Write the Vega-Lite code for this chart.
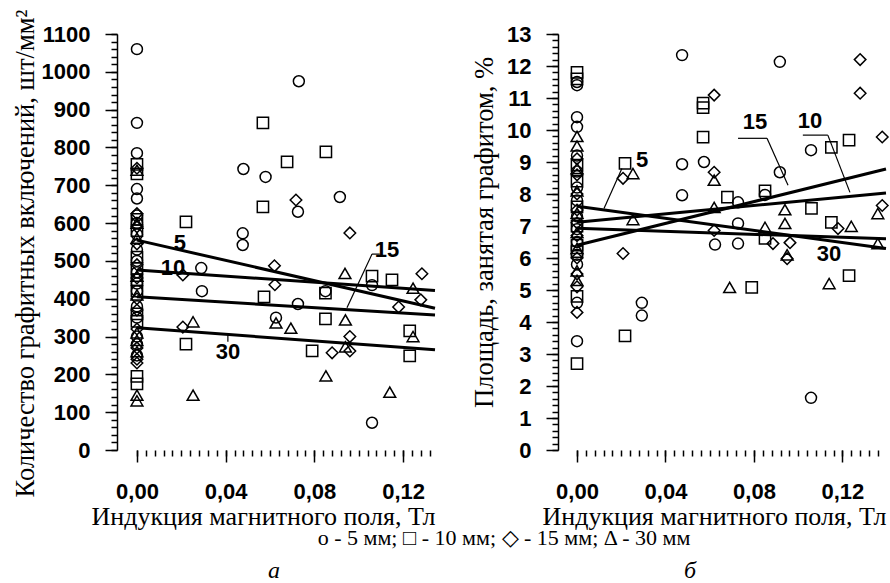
{
"$schema": "https://vega.github.io/schema/vega-lite/v6.json",
"background": "white",
"padding": {"left": 12, "top": 9, "right": 0, "bottom": 0},
"config": {"view": {"stroke": null}, "axis": {"grid": false, "domainColor": "black", "domainWidth": 1.5, "tickColor": "black", "tickWidth": 1.5, "labelColor": "black", "titleColor": "black", "labelFont": "Liberation Sans", "labelFontWeight": "bold", "labelFontSize": 22, "titleFont": "Liberation Serif", "titleFontWeight": "normal", "titleFontSize": 26, "labelOverlap": false, "labelFlush": false, "labelBound": false}},
"title": {"text": "о - 5 мм; □ - 10 мм; ◇ - 15 мм; Δ - 30 мм", "orient": "bottom", "anchor": "middle", "font": "Liberation Serif", "fontSize": 22, "fontWeight": "normal", "color": "black", "offset": -55, "dx": 52},
"spacing": 30,
"datasets": {
"pa": [
{"x":0,"y":1060,"d":"5"},{"x":0,"y":865,"d":"5"},{"x":0,"y":785,"d":"5"},{"x":0,"y":690,"d":"5"},{"x":0,"y":665,"d":"5"},{"x":0,"y":620,"d":"5"},{"x":0,"y":600,"d":"5"},{"x":0,"y":570,"d":"5"},{"x":0,"y":530,"d":"5"},{"x":0,"y":500,"d":"5"},{"x":0,"y":470,"d":"5"},{"x":0,"y":440,"d":"5"},{"x":0,"y":420,"d":"5"},{"x":0,"y":380,"d":"5"},{"x":0,"y":350,"d":"5"},{"x":0,"y":300,"d":"5"},{"x":0,"y":280,"d":"5"},{"x":0,"y":250,"d":"5"},
{"x":0,"y":755,"d":"10"},{"x":0,"y":730,"d":"10"},{"x":0,"y":610,"d":"10"},{"x":0,"y":580,"d":"10"},{"x":0,"y":510,"d":"10"},{"x":0,"y":480,"d":"10"},{"x":0,"y":450,"d":"10"},{"x":0,"y":420,"d":"10"},{"x":0,"y":360,"d":"10"},{"x":0,"y":340,"d":"10"},{"x":0,"y":195,"d":"10"},{"x":0,"y":175,"d":"10"},
{"x":0,"y":745,"d":"15"},{"x":0,"y":625,"d":"15"},{"x":0,"y":590,"d":"15"},{"x":0,"y":545,"d":"15"},{"x":0,"y":490,"d":"15"},{"x":0,"y":455,"d":"15"},{"x":0,"y":400,"d":"15"},{"x":0,"y":370,"d":"15"},{"x":0,"y":320,"d":"15"},{"x":0,"y":270,"d":"15"},{"x":0,"y":240,"d":"15"},{"x":0,"y":230,"d":"15"},
{"x":0,"y":740,"d":"30"},{"x":0,"y":600,"d":"30"},{"x":0,"y":560,"d":"30"},{"x":0,"y":460,"d":"30"},{"x":0,"y":410,"d":"30"},{"x":0,"y":310,"d":"30"},{"x":0,"y":290,"d":"30"},{"x":0,"y":260,"d":"30"},{"x":0,"y":145,"d":"30"},{"x":0,"y":130,"d":"30"},
{"x":0.073,"y":975,"d":"5"},{"x":0.048,"y":743,"d":"5"},{"x":0.058,"y":722,"d":"5"},{"x":0.0915,"y":669,"d":"5"},{"x":0.0726,"y":630,"d":"5"},{"x":0.0477,"y":573,"d":"5"},{"x":0.0477,"y":542,"d":"5"},{"x":0.029,"y":481,"d":"5"},{"x":0.106,"y":436,"d":"5"},{"x":0.085,"y":420,"d":"5"},{"x":0.0293,"y":420,"d":"5"},{"x":0.0726,"y":386,"d":"5"},{"x":0.0627,"y":350,"d":"5"},{"x":0.106,"y":72,"d":"5"},
{"x":0.0568,"y":865,"d":"10"},{"x":0.0852,"y":788,"d":"10"},{"x":0.0677,"y":762,"d":"10"},{"x":0.0568,"y":643,"d":"10"},{"x":0.0221,"y":603,"d":"10"},{"x":0.106,"y":460,"d":"10"},{"x":0.115,"y":450,"d":"10"},{"x":0.085,"y":415,"d":"10"},{"x":0.0573,"y":405,"d":"10"},{"x":0.085,"y":347,"d":"10"},{"x":0.0221,"y":280,"d":"10"},{"x":0.123,"y":315,"d":"10"},{"x":0.079,"y":262,"d":"10"},{"x":0.123,"y":249,"d":"10"},
{"x":0.0717,"y":661,"d":"15"},{"x":0.096,"y":574,"d":"15"},{"x":0.062,"y":487,"d":"15"},{"x":0.0207,"y":463,"d":"15"},{"x":0.0622,"y":437,"d":"15"},{"x":0.1285,"y":466,"d":"15"},{"x":0.118,"y":378,"d":"15"},{"x":0.128,"y":397,"d":"15"},{"x":0.0207,"y":325,"d":"15"},{"x":0.096,"y":300,"d":"15"},{"x":0.088,"y":257,"d":"15"},{"x":0.096,"y":262,"d":"15"},
{"x":0.0938,"y":467,"d":"30"},{"x":0.1245,"y":428,"d":"30"},{"x":0.094,"y":344,"d":"30"},{"x":0.0627,"y":336,"d":"30"},{"x":0.0694,"y":322,"d":"30"},{"x":0.0253,"y":339,"d":"30"},{"x":0.1245,"y":300,"d":"30"},{"x":0.094,"y":273,"d":"30"},{"x":0.0852,"y":196,"d":"30"},{"x":0.0253,"y":145,"d":"30"},{"x":0.114,"y":153,"d":"30"}
],
"pb": [
{"x":0,"y":11.5,"d":"5"},{"x":0,"y":11.4,"d":"5"},{"x":0,"y":10.4,"d":"5"},{"x":0,"y":10.1,"d":"5"},{"x":0,"y":9.2,"d":"5"},{"x":0,"y":8.7,"d":"5"},{"x":0,"y":8.2,"d":"5"},{"x":0,"y":7.8,"d":"5"},{"x":0,"y":7.3,"d":"5"},{"x":0,"y":6.9,"d":"5"},{"x":0,"y":6.5,"d":"5"},{"x":0,"y":6.1,"d":"5"},{"x":0,"y":5.8,"d":"5"},{"x":0,"y":4.6,"d":"5"},{"x":0,"y":3.4,"d":"5"},
{"x":0,"y":11.8,"d":"10"},{"x":0,"y":11.6,"d":"10"},{"x":0,"y":8.9,"d":"10"},{"x":0,"y":8.4,"d":"10"},{"x":0,"y":7.6,"d":"10"},{"x":0,"y":7.0,"d":"10"},{"x":0,"y":6.4,"d":"10"},{"x":0,"y":6.2,"d":"10"},{"x":0,"y":4.8,"d":"10"},{"x":0,"y":2.7,"d":"10"},
{"x":0,"y":9.1,"d":"15"},{"x":0,"y":8.6,"d":"15"},{"x":0,"y":8.0,"d":"15"},{"x":0,"y":7.5,"d":"15"},{"x":0,"y":7.1,"d":"15"},{"x":0,"y":6.7,"d":"15"},{"x":0,"y":6.0,"d":"15"},{"x":0,"y":5.5,"d":"15"},{"x":0,"y":5.1,"d":"15"},{"x":0,"y":4.3,"d":"15"},
{"x":0,"y":9.8,"d":"30"},{"x":0,"y":9.5,"d":"30"},{"x":0,"y":8.8,"d":"30"},{"x":0,"y":8.1,"d":"30"},{"x":0,"y":7.4,"d":"30"},{"x":0,"y":6.8,"d":"30"},{"x":0,"y":6.3,"d":"30"},{"x":0,"y":5.6,"d":"30"},{"x":0,"y":5.3,"d":"30"},
{"x":0.0475,"y":12.34,"d":"5"},{"x":0.0917,"y":12.13,"d":"5"},{"x":0.1058,"y":9.37,"d":"5"},{"x":0.0475,"y":8.93,"d":"5"},{"x":0.0574,"y":9.0,"d":"5"},{"x":0.0917,"y":8.68,"d":"5"},{"x":0.0475,"y":7.96,"d":"5"},{"x":0.0728,"y":7.74,"d":"5"},{"x":0.085,"y":7.97,"d":"5"},{"x":0.0728,"y":7.08,"d":"5"},{"x":0.0624,"y":6.42,"d":"5"},{"x":0.0728,"y":6.45,"d":"5"},{"x":0.0293,"y":4.6,"d":"5"},{"x":0.0293,"y":4.2,"d":"5"},{"x":0.1058,"y":1.63,"d":"5"},
{"x":0.057,"y":10.84,"d":"10"},{"x":0.057,"y":10.7,"d":"10"},{"x":0.057,"y":9.78,"d":"10"},{"x":0.123,"y":9.68,"d":"10"},{"x":0.115,"y":9.46,"d":"10"},{"x":0.0217,"y":8.96,"d":"10"},{"x":0.068,"y":7.9,"d":"10"},{"x":0.085,"y":8.1,"d":"10"},{"x":0.106,"y":7.55,"d":"10"},{"x":0.115,"y":7.11,"d":"10"},{"x":0.085,"y":6.61,"d":"10"},{"x":0.123,"y":5.45,"d":"10"},{"x":0.079,"y":5.08,"d":"10"},{"x":0.0217,"y":3.57,"d":"10"},
{"x":0.128,"y":12.2,"d":"15"},{"x":0.128,"y":11.15,"d":"15"},{"x":0.062,"y":11.09,"d":"15"},{"x":0.138,"y":9.78,"d":"15"},{"x":0.0208,"y":8.49,"d":"15"},{"x":0.062,"y":8.68,"d":"15"},{"x":0.138,"y":7.64,"d":"15"},{"x":0.118,"y":6.92,"d":"15"},{"x":0.062,"y":6.86,"d":"15"},{"x":0.0886,"y":6.45,"d":"15"},{"x":0.0963,"y":6.48,"d":"15"},{"x":0.0208,"y":6.14,"d":"15"},{"x":0.095,"y":5.98,"d":"15"},
{"x":0.0253,"y":8.64,"d":"30"},{"x":0.062,"y":8.43,"d":"30"},{"x":0.062,"y":7.58,"d":"30"},{"x":0.094,"y":7.51,"d":"30"},{"x":0.136,"y":7.39,"d":"30"},{"x":0.0253,"y":7.2,"d":"30"},{"x":0.094,"y":7.08,"d":"30"},{"x":0.124,"y":6.99,"d":"30"},{"x":0.085,"y":6.96,"d":"30"},{"x":0.136,"y":6.45,"d":"30"},{"x":0.095,"y":6.1,"d":"30"},{"x":0.069,"y":5.08,"d":"30"},{"x":0.114,"y":5.2,"d":"30"}
],
"la": [
{"d":"5","x":0,"y":555},{"d":"5","x":0.1344,"y":375},
{"d":"10","x":0,"y":476},{"d":"10","x":0.1344,"y":422},
{"d":"15","x":0,"y":405},{"d":"15","x":0.1344,"y":357},
{"d":"30","x":0,"y":323},{"d":"30","x":0.1344,"y":265}
],
"lb": [
{"d":"5","x":0,"y":7.62},{"d":"5","x":0.1397,"y":6.30},
{"d":"30","x":0,"y":6.93},{"d":"30","x":0.1397,"y":6.60},
{"d":"10","x":0,"y":7.12},{"d":"10","x":0.1397,"y":8.03},
{"d":"15","x":0,"y":6.40},{"d":"15","x":0.1397,"y":8.78}
],
"ta": [
{"t":"5","x":0.0194,"y":547},{"t":"10","x":0.0162,"y":480},{"t":"15","x":0.1127,"y":529},{"t":"30","x":0.041,"y":259}
],
"tb": [
{"t":"5","x":0.0294,"y":9.05},{"t":"15","x":0.0805,"y":10.24},{"t":"10","x":0.1053,"y":10.28},{"t":"30","x":0.1139,"y":6.11}
],
"ra": [
{"x":0.106,"y":518,"x2":0.0947,"y2":376},{"x":0.106,"y":518,"x2":0.1095,"y2":518},{"x":0.041,"y":309,"x2":0.041,"y2":286}
],
"rb": [
{"x":0.0728,"y":9.74,"x2":0.0859,"y2":9.74},{"x":0.0859,"y":9.74,"x2":0.0954,"y2":8.27},
{"x":0.1021,"y":9.84,"x2":0.1134,"y2":9.84},{"x":0.1134,"y":9.84,"x2":0.1234,"y2":8.05},
{"x":0.0203,"y":8.80,"x2":0.0122,"y2":7.55}
]
},
"hconcat": [
{
"width": 318, "height": 416,
"title": {"text": "а", "orient": "bottom", "font": "Liberation Serif", "fontStyle": "italic", "fontSize": 24, "fontWeight": "normal", "color": "black", "offset": 30, "dx": -2},
"resolve": {"axis": {"x": "independent", "y": "independent"}},
"layer": [
{"data": {"name": "pa"}, "mark": {"type": "point", "filled": false, "color": "black", "strokeWidth": 1.5, "opacity": 1},
 "encoding": {
  "x": {"field": "x", "type": "quantitative", "scale": {"domain": [-0.009, 0.1344], "nice": false, "zero": false},
   "axis": {"orient": "bottom", "title": "Индукция магнитного поля, Тл", "titleAnchor": "end", "titlePadding": 1, "domain": false, "values": [0, 0.04, 0.08, 0.12], "tickSize": 12, "labelExpr": "replace(format(datum.value,'.2f'),'.',',')", "labelPadding": 19, "labelOverlap": false}},
  "y": {"field": "y", "type": "quantitative", "scale": {"domain": [0, 1100], "nice": false},
   "axis": {"orient": "left", "title": "Количество графитных включений, шт/мм²", "titleFontSize": 26.5, "titlePadding": 2, "titleY": 219, "values": [0,100,200,300,400,500,600,700,800,900,1000,1100], "tickSize": 12, "labelPadding": 15, "labelOverlap": false, "format": "d"}},
  "shape": {"field": "d", "type": "nominal", "scale": {"domain": ["5","10","15","30"], "range": ["circle","square","diamond","triangle-up"]}, "legend": null},
  "size": {"field": "d", "type": "ordinal", "scale": {"domain": ["5","10","15","30"], "range": [120,140,100,75]}, "legend": null}
 }},
{"data": {"name": "la"}, "mark": {"type": "line", "color": "black", "strokeWidth": 3}, "encoding": {
  "x": {"field": "x", "type": "quantitative", "axis": {"orient": "bottom", "title": null, "labels": false, "domain": false, "tickSize": 6, "labelOverlap": false, "values": [0,0.004,0.008,0.012,0.016,0.02,0.024,0.028,0.032,0.036,0.04,0.044,0.048,0.052,0.056,0.06,0.064,0.068,0.072,0.076,0.08,0.084,0.088,0.092,0.096,0.1,0.104,0.108,0.112,0.116,0.12,0.124,0.128,0.132]}},
  "y": {"field": "y", "type": "quantitative", "axis": {"orient": "left", "title": null, "labels": false, "domain": false, "tickSize": 6, "labelOverlap": false, "values": [0,20,40,60,80,100,120,140,160,180,200,220,240,260,280,300,320,340,360,380,400,420,440,460,480,500,520,540,560,580,600,620,640,660,680,700,720,740,760,780,800,820,840,860,880,900,920,940,960,980,1000,1020,1040,1060,1080,1100]}},
  "detail": {"field": "d"}}},
{"mark": {"type": "rule", "color": "black", "strokeWidth": 1.5}, "encoding": {"x": {"datum": -0.0018, "axis": null}, "x2": {"datum": 0.1344}, "y": {"datum": 1105, "axis": null}}},
{"mark": {"type": "rule", "color": "black", "strokeWidth": 1.5}, "encoding": {"x": {"datum": 0, "axis": null}, "x2": {"datum": 0.1344}, "y": {"datum": 0, "axis": null}}},
{"data": {"name": "ra"}, "mark": {"type": "rule", "color": "black", "strokeWidth": 1.2}, "encoding": {"x": {"field": "x", "type": "quantitative", "axis": null}, "y": {"field": "y", "type": "quantitative", "axis": null}, "x2": {"field": "x2"}, "y2": {"field": "y2"}}},
{"data": {"name": "ta"}, "mark": {"type": "text", "font": "Liberation Sans", "fontWeight": "bold", "fontSize": 22, "color": "black"}, "encoding": {"x": {"field": "x", "type": "quantitative", "axis": null}, "y": {"field": "y", "type": "quantitative", "axis": null}, "text": {"field": "t"}}}
]
},
{
"width": 328, "height": 416,
"title": {"text": "б", "orient": "bottom", "font": "Liberation Serif", "fontStyle": "italic", "fontSize": 24, "fontWeight": "normal", "color": "black", "offset": 30, "dx": -32},
"resolve": {"axis": {"x": "independent", "y": "independent"}},
"layer": [
{"data": {"name": "pb"}, "mark": {"type": "point", "filled": false, "color": "black", "strokeWidth": 1.5, "opacity": 1},
 "encoding": {
  "x": {"field": "x", "type": "quantitative", "scale": {"domain": [-0.0086, 0.1397], "nice": false, "zero": false},
   "axis": {"orient": "bottom", "title": "Индукция магнитного поля, Тл", "titleAnchor": "end", "titlePadding": 1, "domain": false, "values": [0, 0.04, 0.08, 0.12], "tickSize": 12, "labelExpr": "replace(format(datum.value,'.2f'),'.',',')", "labelPadding": 19, "labelOverlap": false}},
  "y": {"field": "y", "type": "quantitative", "scale": {"domain": [0, 13], "nice": false},
   "axis": {"orient": "left", "title": "Площадь, занятая графитом, %", "titleFontSize": 26.5, "titlePadding": 8, "titleY": 198, "values": [0,1,2,3,4,5,6,7,8,9,10,11,12,13], "tickSize": 12, "labelPadding": 15, "labelOverlap": false, "format": "d"}},
  "shape": {"field": "d", "type": "nominal", "scale": {"domain": ["5","10","15","30"], "range": ["circle","square","diamond","triangle-up"]}, "legend": null},
  "size": {"field": "d", "type": "ordinal", "scale": {"domain": ["5","10","15","30"], "range": [120,140,100,75]}, "legend": null}
 }},
{"data": {"name": "lb"}, "mark": {"type": "line", "color": "black", "strokeWidth": 3}, "encoding": {
  "x": {"field": "x", "type": "quantitative", "axis": {"orient": "bottom", "title": null, "labels": false, "domain": false, "tickSize": 6, "labelOverlap": false, "values": [0,0.004,0.008,0.012,0.016,0.02,0.024,0.028,0.032,0.036,0.04,0.044,0.048,0.052,0.056,0.06,0.064,0.068,0.072,0.076,0.08,0.084,0.088,0.092,0.096,0.1,0.104,0.108,0.112,0.116,0.12,0.124,0.128,0.132,0.136]}},
  "y": {"field": "y", "type": "quantitative", "axis": {"orient": "left", "title": null, "labels": false, "domain": false, "tickSize": 6, "labelOverlap": false, "values": [0,0.2,0.4,0.6,0.8,1,1.2,1.4,1.6,1.8,2,2.2,2.4,2.6,2.8,3,3.2,3.4,3.6,3.8,4,4.2,4.4,4.6,4.8,5,5.2,5.4,5.6,5.8,6,6.2,6.4,6.6,6.8,7,7.2,7.4,7.6,7.8,8,8.2,8.4,8.6,8.8,9,9.2,9.4,9.6,9.8,10,10.2,10.4,10.6,10.8,11,11.2,11.4,11.6,11.8,12,12.2,12.4,12.6,12.8,13]}},
  "detail": {"field": "d"}}},
{"mark": {"type": "rule", "color": "black", "strokeWidth": 1.5}, "encoding": {"x": {"datum": 0.0005, "axis": null}, "x2": {"datum": 0.1397}, "y": {"datum": 13.03, "axis": null}}},
{"mark": {"type": "rule", "color": "black", "strokeWidth": 1.5}, "encoding": {"x": {"datum": 0, "axis": null}, "x2": {"datum": 0.1397}, "y": {"datum": 0, "axis": null}}},
{"data": {"name": "rb"}, "mark": {"type": "rule", "color": "black", "strokeWidth": 1.2}, "encoding": {"x": {"field": "x", "type": "quantitative", "axis": null}, "y": {"field": "y", "type": "quantitative", "axis": null}, "x2": {"field": "x2"}, "y2": {"field": "y2"}}},
{"data": {"name": "tb"}, "mark": {"type": "text", "font": "Liberation Sans", "fontWeight": "bold", "fontSize": 22, "color": "black"}, "encoding": {"x": {"field": "x", "type": "quantitative", "axis": null}, "y": {"field": "y", "type": "quantitative", "axis": null}, "text": {"field": "t"}}}
]
}
]
}
